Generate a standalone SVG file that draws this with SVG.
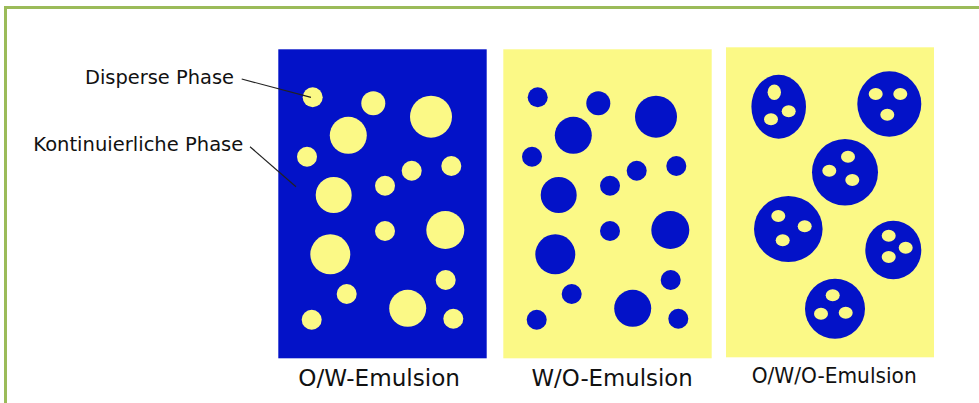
<svg xmlns="http://www.w3.org/2000/svg" width="979" height="403" viewBox="0 0 979 403">
<style>
.frame{fill:none;stroke:#9bbb59;stroke-width:3}
.blue{fill:#0312c8}
.yel{fill:#fbf986}
.lbl{font-family:"DejaVu Sans","Verdana",sans-serif;fill:#111}
.lead{stroke:#222;stroke-width:1.2;fill:none}
</style>
<defs>
<g id="dots">
<circle cx="312.7" cy="97.3" r="10"/>
<circle cx="373.3" cy="103.3" r="12"/>
<circle cx="431" cy="116.7" r="21"/>
<circle cx="348.3" cy="135.3" r="18.5"/>
<circle cx="307" cy="156.7" r="10"/>
<circle cx="411.7" cy="170.7" r="10"/>
<circle cx="451.3" cy="166" r="10"/>
<circle cx="385" cy="185.7" r="10"/>
<circle cx="333.7" cy="195" r="18"/>
<circle cx="385" cy="231" r="10"/>
<circle cx="445.3" cy="230" r="19"/>
<circle cx="330.3" cy="254.3" r="20"/>
<circle cx="445.7" cy="280" r="10"/>
<circle cx="346.7" cy="294" r="10"/>
<circle cx="407.7" cy="308.3" r="18.5"/>
<circle cx="311.7" cy="319.7" r="10"/>
<circle cx="453.3" cy="318.7" r="10"/>
</g>
</defs>
<rect class="frame" x="5.5" y="7.5" width="1000" height="420"/>

<g id="ow-emulsion">
<rect class="blue" x="278.3" y="49.3" width="208.4" height="309"/>
<use href="#dots" class="yel"/>
<text class="lbl" x="298.3" y="386.3" font-size="23" textLength="161.7" lengthAdjust="spacingAndGlyphs">O/W-Emulsion</text>
</g>

<g id="wo-emulsion">
<rect class="yel" x="503.3" y="49.3" width="208.4" height="309"/>
<use href="#dots" class="blue" transform="translate(225,0)"/>
<text class="lbl" x="531.5" y="386.3" font-size="23" textLength="161.3" lengthAdjust="spacingAndGlyphs">W/O-Emulsion</text>
</g>

<g id="owo-emulsion">
<rect class="yel" x="726" y="47.3" width="208" height="310"/>
<g class="blue">
<ellipse cx="778.7" cy="106.7" rx="27.3" ry="32"/>
<ellipse cx="889.3" cy="104" rx="32" ry="32.7"/>
<ellipse cx="845" cy="172.3" rx="33" ry="33.3"/>
<ellipse cx="788.3" cy="229" rx="34.3" ry="33"/>
<ellipse cx="893.3" cy="250" rx="28" ry="29.3"/>
<ellipse cx="835" cy="308.7" rx="30" ry="30"/>
</g>
<g class="yel">
<ellipse cx="774.3" cy="92.3" rx="6.7" ry="7.7"/>
<ellipse cx="788.7" cy="111.3" rx="7" ry="6"/>
<ellipse cx="771" cy="119.3" rx="7" ry="6"/>
<ellipse cx="875.7" cy="94" rx="7" ry="6"/>
<ellipse cx="900.3" cy="94" rx="7" ry="6"/>
<ellipse cx="887.3" cy="114.7" rx="7" ry="6"/>
<ellipse cx="848" cy="156.7" rx="7" ry="6"/>
<ellipse cx="829.3" cy="170.7" rx="7" ry="6"/>
<ellipse cx="852.3" cy="180" rx="7" ry="6"/>
<ellipse cx="778.3" cy="216" rx="7" ry="6"/>
<ellipse cx="804.7" cy="226.3" rx="7" ry="6"/>
<ellipse cx="782.7" cy="240.3" rx="7" ry="6"/>
<ellipse cx="888.7" cy="235.7" rx="7" ry="6"/>
<ellipse cx="905.7" cy="247.7" rx="7" ry="6"/>
<ellipse cx="888.7" cy="257" rx="7" ry="6"/>
<ellipse cx="832.7" cy="295.3" rx="7" ry="6"/>
<ellipse cx="821" cy="313.7" rx="7" ry="6"/>
<ellipse cx="845.7" cy="312.7" rx="7" ry="6"/>
</g>
<text class="lbl" x="751.7" y="383" font-size="20.5" textLength="165" lengthAdjust="spacingAndGlyphs">O/W/O-Emulsion</text>
</g>

<g id="label-disperse">
<text class="lbl" x="85" y="84" font-size="19.4" textLength="149" lengthAdjust="spacingAndGlyphs">Disperse Phase</text>
</g>
<g id="label-kontinuierlich">
<text class="lbl" x="33.3" y="151" font-size="19.4" textLength="210" lengthAdjust="spacingAndGlyphs">Kontinuierliche Phase</text>
</g>

<g id="connectors">
<line class="lead" x1="241.7" y1="79" x2="311" y2="97.3"/>
<line class="lead" x1="250" y1="146.7" x2="296" y2="186.7"/>
</g>
</svg>
